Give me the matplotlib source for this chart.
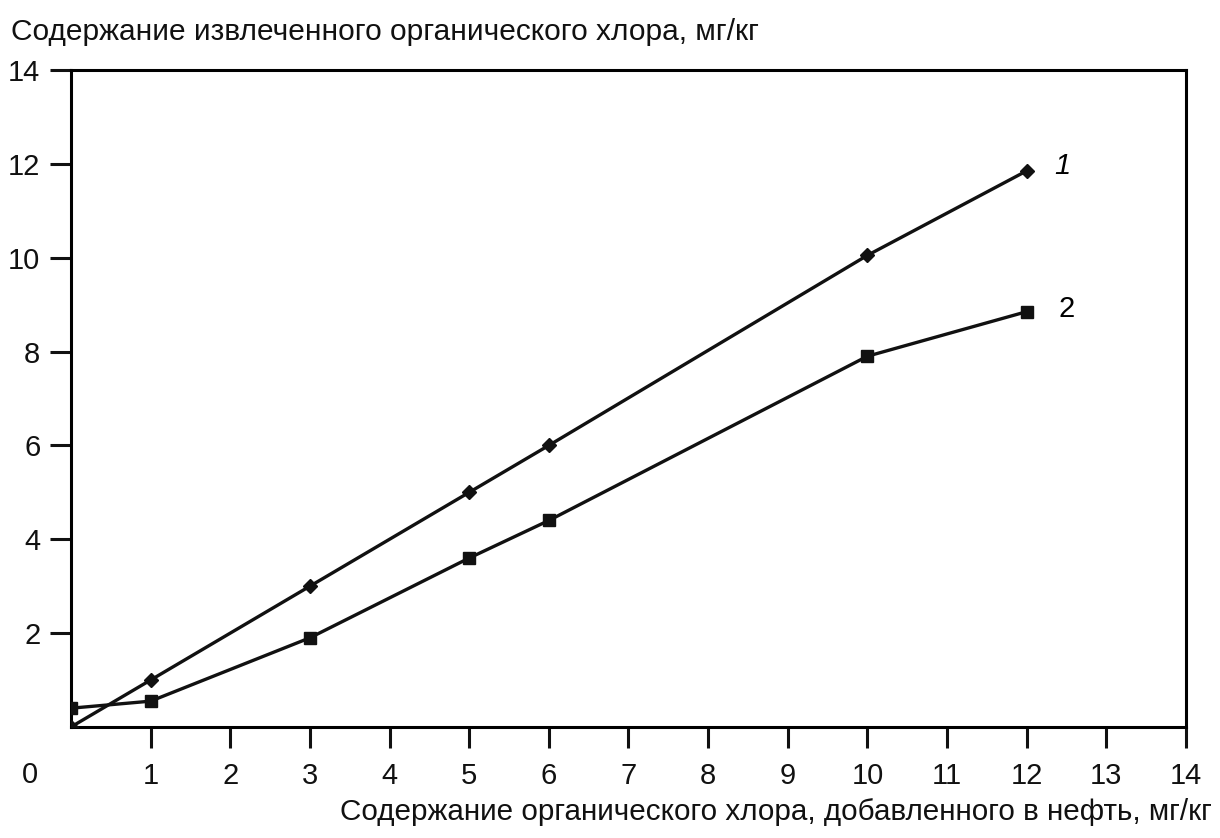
import matplotlib
matplotlib.use('Agg')
import matplotlib.pyplot as plt

plt.rcParams['font.family'] = ['Liberation Sans', 'DejaVu Sans']

# data
x1 = [0, 1, 3, 5, 6, 10, 12]
y1 = [0.0, 1.0, 3.0, 5.0, 6.0, 10.05, 11.85]
x2 = [0, 1, 3, 5, 6, 10, 12]
y2 = [0.4, 0.55, 1.9, 3.6, 4.4, 7.9, 8.85]
xticks = list(range(1, 15))
yticks = list(range(2, 15, 2))

fig = plt.figure(figsize=(12.2, 8.38), dpi=100)
ax = fig.add_axes([0.0582, 0.1325, 0.9139, 0.784])

ax.plot(x1, y1, color='#111111', lw=2.4, marker='D', ms=7.5, zorder=3)
ax.plot(x2, y2, color='#111111', lw=2.4, marker='s', ms=8, zorder=3)

ax.set_xlim(0, 14)
ax.set_ylim(0, 14)
ax.set_xticks(xticks)
ax.set_yticks(yticks)
for s in ax.spines.values():
    s.set_linewidth(2.2)
ax.tick_params(direction='out', length=15, width=2.2, labelsize=21,
               colors='#111111')
ax.tick_params(axis='x', pad=10)
ax.tick_params(axis='y', pad=7)

# zero at the corner
ax.text(-0.03, -0.073, '0', transform=ax.transAxes, fontsize=21,
        ha='right', va='center', color='#111111')

# curve numbers
ax.text(12.35, 11.95, '1', fontsize=21, style='italic', ha='left', va='center')
ax.text(12.4, 8.9, '2', fontsize=21, ha='left', va='center')

fig.text(0.009, 0.962, 'Содержание извлеченного органического хлора, мг/кг',
         fontsize=21.5, ha='left', va='center', color='#111111')
fig.text(0.993, 0.031, 'Содержание органического хлора, добавленного в нефть, мг/кг',
         fontsize=21.3, ha='right', va='center', color='#111111')

fig.savefig('out.png', dpi=100, facecolor='white')
